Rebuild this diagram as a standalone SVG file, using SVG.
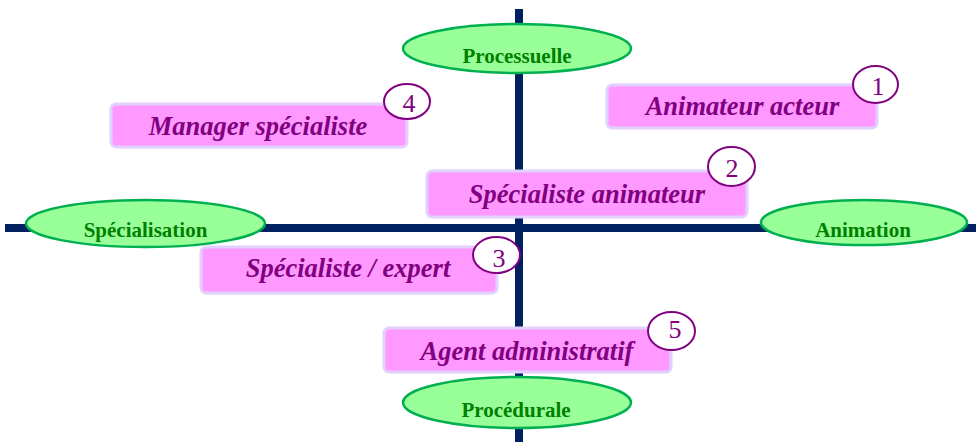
<svg xmlns="http://www.w3.org/2000/svg" width="976" height="442" viewBox="0 0 976 442">
<style>
.axis{stroke:#002060;stroke-width:8;fill:none}
.ell{fill:#99ff99;stroke:#00b050;stroke-width:2.5}
.elt{font-family:"Liberation Serif","Times New Roman",serif;font-weight:bold;font-size:21px;fill:#008000;text-anchor:middle}
.box{fill:#ff99ff;stroke:#e2d0ff;stroke-width:3}
.bxt{font-family:"Liberation Serif","Times New Roman",serif;font-weight:bold;font-style:italic;font-size:26.5px;fill:#800080;text-anchor:middle}
.num{fill:#ffffff;stroke:#800080;stroke-width:2}
.nut{font-family:"Liberation Serif","Times New Roman",serif;font-size:26px;fill:#800080;text-anchor:middle}
</style>
<rect width="976" height="442" fill="#ffffff"/>
<g id="connectors">
<line class="axis" x1="519" y1="9" x2="519" y2="442"/>
<line class="axis" x1="5" y1="228" x2="976" y2="228"/>
</g>
<g id="processuelle"><ellipse class="ell" cx="517" cy="48.5" rx="114" ry="24.5"/><text class="elt" x="517" y="63">Processuelle</text></g>
<g id="specialisation"><ellipse class="ell" cx="145.5" cy="223.5" rx="119.5" ry="23.5"/><text class="elt" x="145.5" y="237">Spécialisation</text></g>
<g id="animation"><ellipse class="ell" cx="864" cy="222.5" rx="103" ry="22.5"/><text class="elt" x="863" y="237">Animation</text></g>
<g id="procedurale"><ellipse class="ell" cx="517" cy="402.5" rx="114" ry="25.5"/><text class="elt" x="516" y="417">Procédurale</text></g>
<g id="manager-specialiste"><rect class="box" x="111" y="104" width="296" height="43" rx="5"/><text class="bxt" x="258" y="135">Manager spécialiste</text><ellipse class="num" cx="407" cy="101.5" rx="23" ry="17.5"/><text class="nut" x="409" y="112">4</text></g>
<g id="animateur-acteur"><rect class="box" x="607" y="85" width="270" height="43" rx="5"/><text class="bxt" x="742.5" y="115">Animateur acteur</text><ellipse class="num" cx="875.5" cy="84.5" rx="22.5" ry="18.5"/><text class="nut" x="878" y="95">1</text></g>
<g id="specialiste-animateur"><rect class="box" x="427" y="171" width="320" height="46" rx="5"/><text class="bxt" x="587" y="203">Spécialiste animateur</text><ellipse class="num" cx="731.5" cy="166.5" rx="23.5" ry="19.5"/><text class="nut" x="732" y="177">2</text></g>
<g id="specialiste-expert"><rect class="box" x="201" y="247" width="296" height="46" rx="5"/><text class="bxt" x="348" y="277">Spécialiste / expert</text><ellipse class="num" cx="496.5" cy="255" rx="23.5" ry="18"/><text class="nut" x="499" y="266.5">3</text></g>
<g id="agent-administratif"><rect class="box" x="384" y="328" width="287" height="44" rx="5"/><text class="bxt" x="527" y="360">Agent administratif</text><ellipse class="num" cx="671.5" cy="331" rx="23.5" ry="19"/><text class="nut" x="675" y="338">5</text></g>
</svg>
